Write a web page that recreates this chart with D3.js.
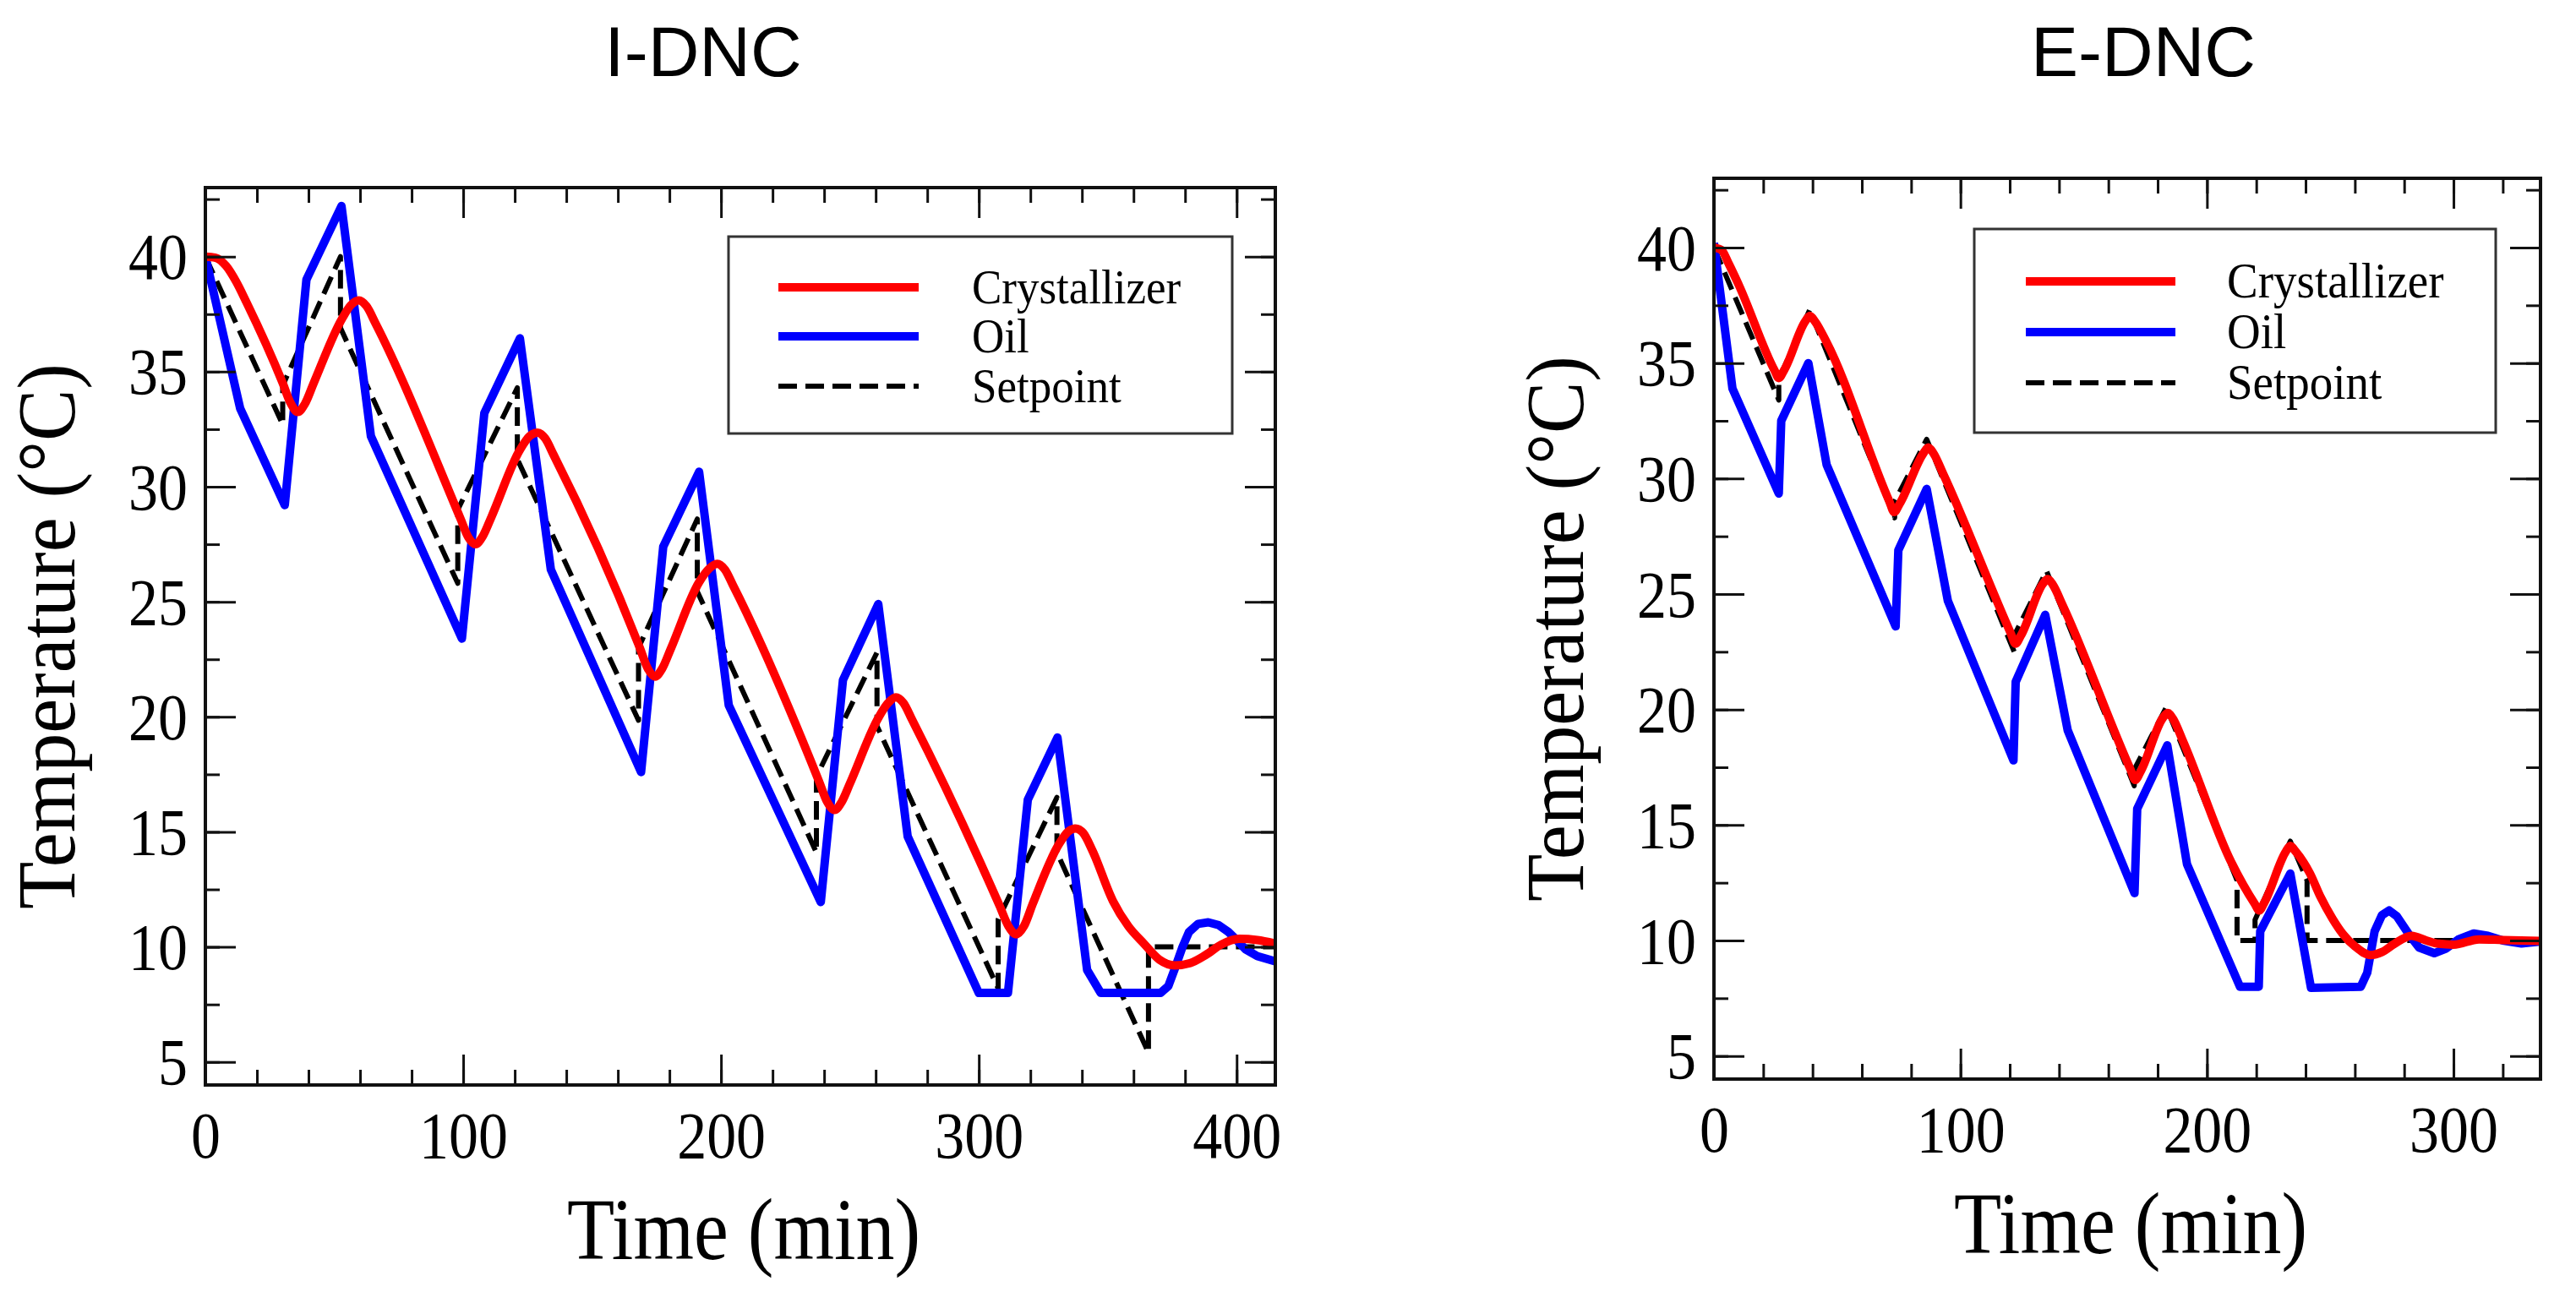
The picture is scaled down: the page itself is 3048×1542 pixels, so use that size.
<!DOCTYPE html>
<html>
<head>
<meta charset="utf-8">
<script src="https://cdn.jsdelivr.net/npm/d3@7/dist/d3.min.js"></script>
<style>
  body { margin: 0; background: #fff; }
</style>
</head>
<body>
<svg id="chart" width="3048" height="1542"></svg>
<script>
// ---- data: [time (min), temperature (°C)] ----
const seriesNames = ['Crystallizer', 'Oil', 'Setpoint'];
const panelTitles = ['I-DNC', 'E-DNC'];
const xMajorTicks = [[0, 100, 200, 300, 400], [0, 100, 200, 300]];
const yMajorTicks = [5, 10, 15, 20, 25, 30, 35, 40];

const idncCrystallizer = [
  [0,40],[4,39.95],[8,39.6],[12,38.9],[16,38.0],[30,34.5],[33,33.65],[35.8,33.25],[38.6,33.6],[42,34.5],
  [53,37.3],[56.5,37.9],[59.5,38.1],[62.5,37.85],[66,37.1],[99,28.6],[102,27.8],[104.8,27.5],[107.6,27.85],[111,28.7],
  [122,31.6],[125.8,32.2],[128.8,32.35],[131.8,32.1],[135,31.4],[168.5,23.0],[171.6,22.1],[174.4,21.75],[177.2,22.1],[180.5,22.95],
  [191.5,25.85],[195.5,26.45],[198.5,26.65],[201.5,26.4],[204.5,25.75],[238,17.2],[241.2,16.3],[244,15.95],[246.8,16.3],[250,17.1],
  [261,19.95],[264.8,20.6],[267.8,20.85],[270.8,20.6],[274,19.9],[308,11.8],[311.5,10.9],[314.5,10.55],[317.5,10.9],[321,11.9],
  [331,14.45],[334.5,15.0],[337.5,15.15],[340.5,14.95],[344,14.2],[352,12.0],[358,10.9],[364,10.15],[370,9.45],[376,9.2],
  [382,9.3],[388,9.65],[394,10.1],[401,10.35],[408,10.3],[415,10.15]
];
const idncOil = [
  [0,40],[13.5,33.4],[30.8,29.2],[39.2,39.0],[52.8,42.2],[64.2,32.2],[99.5,23.4],[108.2,33.2],[122,36.45],[134,26.4],
  [169,17.6],[177.6,27.4],[191.5,30.65],[203,20.5],[238.7,11.95],[247.3,21.6],[261,24.9],[272.4,14.8],[300,8.0],[311.3,8.0],
  [319,16.4],[330.5,19.1],[342,9.0],[347.3,8.0],[370.5,8.0],[373.5,8.3],[376,9.05],[379,10.0],[381.5,10.65],[385,11.0],
  [389,11.07],[393,10.95],[396.8,10.65],[400,10.3],[403.4,9.9],[408,9.6],[415,9.37]
];
const idncSetpoint = [
  [0,40],[30,32.7],[30,34.4],[52.4,40],[52.4,36.9],[97.9,25.8],[97.9,29.0],[121,34.3],[121,31.2],[168,19.85],
  [168,23.0],[190.8,28.6],[190.8,25.45],[237,14.1],[237,17.4],[260.5,22.8],[260.5,19.6],[307.5,8.2],[307.5,11.2],[330.3,16.5],
  [330.3,14.1],[365.8,5.4],[365.8,10],[415,10]
];

const ednCrystallizer = [
  [0,40.0],[3,39.9],[6,39.3],[10,38.4],[24.5,34.7],[26.3,34.35],[28.5,34.7],[37,36.8],[38.9,37.05],[41,36.8],
  [45.7,35.9],[71.2,29.0],[73.1,28.55],[75.3,28.9],[85,31.1],[86.9,31.35],[89,31.1],[93,30.2],[120.4,23.3],[122.3,22.85],
  [124.5,23.2],[133.5,25.45],[135.4,25.65],[137.5,25.4],[141.5,24.5],[169,17.4],[170.9,16.95],[173,17.3],[182.2,19.65],[184.1,19.85],
  [186.2,19.6],[190,18.7],[209.8,13.4],[219.3,11.6],[221.2,11.3],[223.3,11.65],[232,13.85],[233.8,14.1],[236,13.85],[241.8,12.9],
  [246,11.9],[250.9,10.95],[255,10.3],[260.1,9.74],[266.4,9.37],[271,9.5],[276.1,9.86],[283,10.2],[289,10.0],[294,9.86],
  [300,9.82],[310.4,10.05],[320,10.02],[335,9.98]
];
const ednOil = [
  [0,40.2],[7.5,33.9],[26.3,29.35],[27.3,32.5],[38.3,35.0],[45.7,30.6],[73.7,23.6],[74.8,26.9],[86.3,29.55],[94.9,24.7],
  [121.5,17.8],[122.4,21.2],[134.4,24.1],[143.5,19.1],[170.6,12.05],[171.7,15.7],[183.9,18.45],[191.9,13.3],[213.4,8.0],[221.0,8.0],
  [221.6,10.4],[233.8,12.9],[242.2,7.95],[262.4,8.0],[265,8.6],[268,10.4],[271,11.1],[273.9,11.3],[277,11.05],[281.9,10.27],
  [286,9.7],[292.2,9.45],[297,9.65],[302,10.05],[308.2,10.3],[314,10.2],[320,10.0],[327.6,9.87],[335,9.95]
];
const ednSetpoint = [
  [0,40],[26.3,33.4],[26.3,34.3],[38.8,37.3],[73.3,28.3],[73.3,29.0],[86.3,31.7],[121.8,22.5],[121.8,23.2],[134.9,26.0],
  [170.5,16.7],[170.5,17.4],[183.5,20.1],[212.2,12.6],[212.2,10.0],[219.5,10.0],[219.5,10.9],[233.8,14.3],[240.6,12.6],[240.6,10.0],
  [335,10.0]
];

const serif = '"Liberation Serif", "Times New Roman", serif';
const sans = '"Liberation Sans", Arial, sans-serif';
const stretch = 1.12;

const panels = [
  {
    title: panelTitles[0], titleX: 832, left: 243, right: 1509, top: 222, bottom: 1284, xMax: 415,
    xTicks: xMajorTicks[0], data: [idncCrystallizer, idncOil, idncSetpoint],
    legend: {x0: 862, x1: 1458, y0: 280, y1: 513, line0: 921, line1: 1087, text: 1150, rows: [340, 398, 457], size: 53}
  },
  {
    title: panelTitles[1], titleX: 2536, left: 2028, right: 3006, top: 211, bottom: 1277, xMax: 335.3,
    xTicks: xMajorTicks[1], data: [ednCrystallizer, ednOil, ednSetpoint],
    legend: {x0: 2336, x1: 2953, y0: 271, y1: 512, line0: 2397, line1: 2574, text: 2635, rows: [333, 393, 453], size: 55}
  }
];

const styles = [
  {color: '#ff0000', width: 10, dash: null, curve: d3.curveMonotoneX},
  {color: '#0000ff', width: 10, dash: null, curve: d3.curveLinear},
  {color: '#000000', width: 6, dash: '22,10', curve: d3.curveLinear}
];

const svg = d3.select('#chart');

panels.forEach((p, i) => drawPanel(p, i));

function drawPanel(p, idx) {
  const x = d3.scaleLinear().domain([0, p.xMax]).range([p.left, p.right]);
  const y = d3.scaleLinear().domain([4, 43]).range([p.bottom, p.top]);
  const g = svg.append('g');

  g.append('text')
    .attr('x', p.titleX)
    .attr('y', 90)
    .attr('text-anchor', 'middle')
    .style('font-family', sans)
    .style('font-size', '84px')
    .text(p.title);

  g.append('clipPath').attr('id', 'clip' + idx)
    .append('rect')
    .attr('x', p.left).attr('y', p.top)
    .attr('width', p.right - p.left).attr('height', p.bottom - p.top);

  // setpoint first, then oil, crystallizer on top
  const plot = g.append('g').attr('clip-path', `url(#clip${idx})`);
  [2, 1, 0].forEach(k => {
    const line = d3.line().x(d => x(d[0])).y(d => y(d[1])).curve(styles[k].curve);
    plot.append('path')
      .datum(p.data[k])
      .attr('d', line)
      .attr('fill', 'none')
      .attr('stroke', styles[k].color)
      .attr('stroke-width', styles[k].width)
      .attr('stroke-linejoin', 'round')
      .attr('stroke-dasharray', styles[k].dash);
  });

  // ticks on all four sides, pointing inward
  const minorX = d3.range(0, p.xMax, 20);
  const minorY = d3.range(5, 43, 2.5);
  const axes = [
    {gen: d3.axisBottom(x), at: `translate(0,${p.bottom})`, minor: minorX, major: p.xTicks, label: true, kind: 'x'},
    {gen: d3.axisTop(x), at: `translate(0,${p.top})`, minor: minorX, major: p.xTicks, label: false, kind: 'x'},
    {gen: d3.axisLeft(y), at: `translate(${p.left},0)`, minor: minorY, major: yMajorTicks, label: true, kind: 'y'},
    {gen: d3.axisRight(y), at: `translate(${p.right},0)`, minor: minorY, major: yMajorTicks, label: false, kind: 'y'}
  ];
  axes.forEach(a => {
    const minorLen = a.kind === 'x' ? 18 : 17;
    const gm = g.append('g').attr('transform', a.at)
      .call(a.gen.tickValues(a.minor).tickSize(-minorLen).tickFormat(''));
    gm.select('.domain').remove();
    gm.selectAll('line').attr('stroke', '#111').attr('stroke-width', 3);

    const gM = g.append('g').attr('transform', a.at)
      .call(a.gen.tickValues(a.major).tickSize(-36).tickFormat(a.label ? d3.format('d') : ''));
    gM.select('.domain').remove();
    gM.attr('font-family', null).attr('font-size', null);
    gM.selectAll('line').attr('stroke', '#111').attr('stroke-width', 3);
    const tx = gM.selectAll('text')
      .attr('fill', '#000')
      .attr('x', 0).attr('y', 0).attr('dy', 0)
      .style('font-family', serif)
      .style('font-size', '70px');
    if (a.label && a.kind === 'x') tx.attr('transform', `translate(0,86) scale(1,${stretch})`);
    if (a.label && a.kind === 'y') tx.attr('transform', `translate(-21,26) scale(1,${stretch})`);
  });

  g.append('rect')
    .attr('x', p.left).attr('y', p.top)
    .attr('width', p.right - p.left).attr('height', p.bottom - p.top)
    .attr('fill', 'none')
    .attr('stroke', '#111')
    .attr('stroke-width', 4);

  // axis titles
  g.append('text')
    .attr('text-anchor', 'middle')
    .attr('transform', `translate(${(p.left + p.right) / 2 + 4},${p.bottom + 206}) scale(1,${stretch})`)
    .style('font-family', serif)
    .style('font-size', '92px')
    .text('Time (min)');

  g.append('text')
    .attr('text-anchor', 'middle')
    .attr('transform', `translate(${p.left - 155},${(p.top + p.bottom) / 2}) rotate(-90) scale(1,1.05)`)
    .style('font-family', serif)
    .style('font-size', '92px')
    .text('Temperature (°C)');

  // legend
  const L = p.legend;
  const lg = g.append('g');
  lg.append('rect')
    .attr('x', L.x0).attr('y', L.y0)
    .attr('width', L.x1 - L.x0).attr('height', L.y1 - L.y0)
    .attr('fill', '#fff')
    .attr('stroke', '#333')
    .attr('stroke-width', 3);
  const items = lg.selectAll('g.item').data(seriesNames).join('g').attr('class', 'item');
  items.append('line')
    .attr('x1', L.line0).attr('x2', L.line1)
    .attr('y1', (d, k) => L.rows[k]).attr('y2', (d, k) => L.rows[k])
    .attr('stroke', (d, k) => styles[k].color)
    .attr('stroke-width', (d, k) => styles[k].width)
    .attr('stroke-dasharray', (d, k) => styles[k].dash);
  items.append('text')
    .attr('transform', (d, k) => `translate(${L.text},${L.rows[k] + 19}) scale(1,1.08)`)
    .style('font-family', serif)
    .style('font-size', L.size + 'px')
    .text(d => d);
}
</script>
</body>
</html>
